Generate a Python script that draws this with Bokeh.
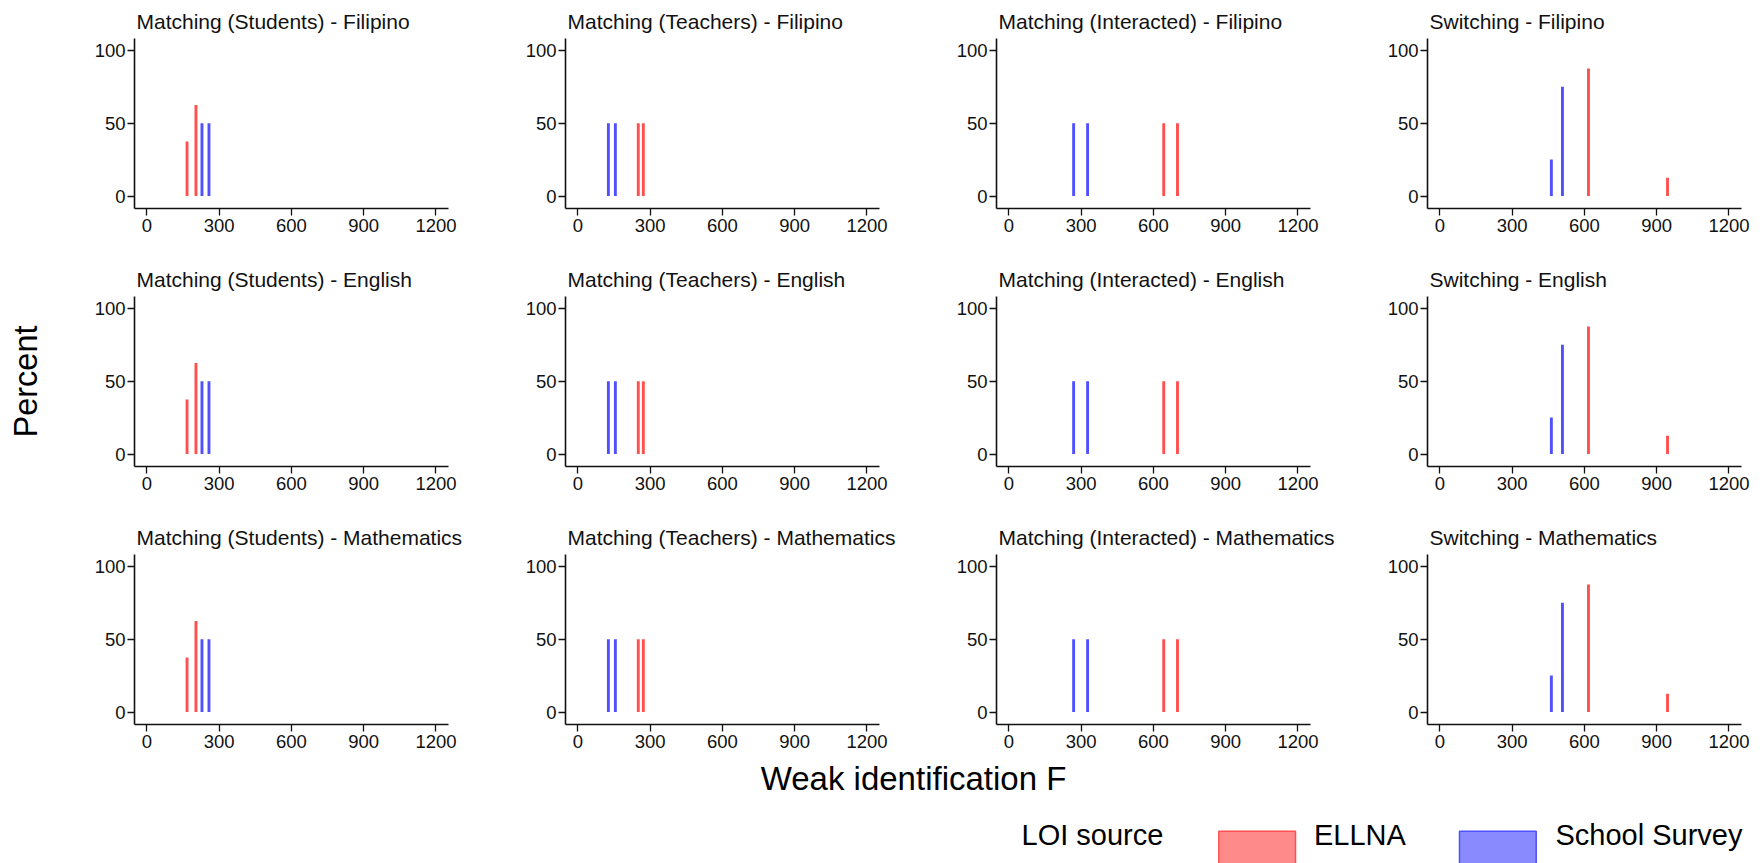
from bokeh.plotting import figure
from bokeh.layouts import column, row
from bokeh.models import FixedTicker, Range1d, Label, BoxAnnotation
from bokeh.embed import file_html
from bokeh.resources import INLINE

# ---------------- data ----------------
subjects = ["Filipino", "English", "Mathematics"]
models = ["Matching (Students)", "Matching (Teachers)", "Matching (Interacted)", "Switching"]

# Weak identification F values and percent of specifications (same for every subject)
ellna_f = {
    "Matching (Students)": [167, 204],
    "Matching (Teachers)": [251, 272],
    "Matching (Interacted)": [643, 700],
    "Switching": [617, 945],
}
ellna_pct = {
    "Matching (Students)": [37.5, 62.5],
    "Matching (Teachers)": [50, 50],
    "Matching (Interacted)": [50, 50],
    "Switching": [87.5, 12.5],
}
survey_f = {
    "Matching (Students)": [229, 258],
    "Matching (Teachers)": [127, 156],
    "Matching (Interacted)": [269, 327],
    "Switching": [463, 509],
}
survey_pct = {
    "Matching (Students)": [50, 50],
    "Matching (Teachers)": [50, 50],
    "Matching (Interacted)": [50, 50],
    "Switching": [25, 75],
}
x_ticks = [0, 300, 600, 900, 1200]
y_ticks = [0, 50, 100]
legend_title = "LOI source"
legend_labels = ["ELLNA", "School Survey"]

# ---------------- style ----------------
FONT = "Liberation Sans"
RED = "#ff5050"
BLUE = "#5050ff"
RED_LIGHT = "#ff8a8a"
BLUE_LIGHT = "#8a8aff"
INK = "#111111"

col_w = [505, 431, 431, 397]
col_l = [134, 60, 60, 60]
col_r = [57, 57, 57, 23]
row_h = [258, 258, 242]
row_b = [50, 50, 34]
TOP = 38


def make_panel(model, subject, ci, ri):
    p = figure(
        width=col_w[ci], height=row_h[ri],
        x_range=Range1d(-51, 1252), y_range=Range1d(-8.5, 108),
        output_backend="svg", toolbar_location=None, tools="",
        min_border_left=col_l[ci], min_border_right=col_r[ci],
        min_border_top=TOP, min_border_bottom=row_b[ri],
        title=f"{model} - {subject}",
    )
    p.vbar(x=ellna_f[model], top=ellna_pct[model], bottom=0, width=12,
           fill_color=RED, line_color=None)
    p.vbar(x=survey_f[model], top=survey_pct[model], bottom=0, width=12,
           fill_color=BLUE, line_color=None)

    p.title.text_font = FONT
    p.title.text_font_size = "21px"
    p.title.text_font_style = "normal"
    p.title.text_color = INK
    p.title.align = "left"
    p.title.offset = 2
    p.title.standoff = 12

    p.xgrid.visible = False
    p.ygrid.visible = False
    p.outline_line_color = None
    p.background_fill_color = "white"
    p.border_fill_color = "white"

    p.xaxis.ticker = FixedTicker(ticks=x_ticks)
    p.yaxis.ticker = FixedTicker(ticks=y_ticks)
    for ax in (p.xaxis, p.yaxis):
        ax.axis_line_color = INK
        ax.axis_line_width = 1.6
        ax.major_tick_line_color = INK
        ax.major_tick_line_width = 1.3
        ax.major_tick_out = 7
        ax.major_tick_in = 0
        ax.minor_tick_line_color = None
        ax.major_label_text_font = FONT
        ax.major_label_text_font_size = "18.5px"
        ax.major_label_text_color = INK
    p.xaxis.major_label_standoff = 3
    p.yaxis.major_label_standoff = 2

    if ci == 0 and ri == 1:
        p.yaxis.axis_label = "Percent"
        p.yaxis.axis_label_text_font = FONT
        p.yaxis.axis_label_text_font_size = "32.5px"
        p.yaxis.axis_label_text_font_style = "normal"
        p.yaxis.axis_label_text_color = "black"
        p.yaxis.axis_label_standoff = 48
    return p


rows = []
for ri, subject in enumerate(subjects):
    rows.append(row([make_panel(m, subject, ci, ri) for ci, m in enumerate(models)]))

# ---------------- bottom strip: x label + legend ----------------
BW, BH = 1764, 105
b = figure(width=BW, height=BH, x_range=Range1d(0, BW), y_range=Range1d(0, BH),
           output_backend="svg", toolbar_location=None, tools="", min_border=0)
b.axis.visible = False
b.grid.visible = False
b.outline_line_color = None

b.add_layout(Label(x=913, y=84.7, text="Weak identification F", text_align="center",
                   text_baseline="alphabetic", text_font=FONT, text_font_size="33px",
                   text_color="black"))
b.add_layout(Label(x=1021, y=29, text=legend_title, text_align="left",
                   text_baseline="alphabetic", text_font=FONT, text_font_size="29px",
                   text_color="black"))
for (l, r, fc, lc, tx, lab) in [
    (1218.3, 1295.0, RED_LIGHT, RED, 1313.5, legend_labels[0]),
    (1459.0, 1535.7, BLUE_LIGHT, BLUE, 1555, legend_labels[1]),
]:
    b.add_layout(BoxAnnotation(left=l, right=r, top=32.3, bottom=-10,
                               fill_color=fc, fill_alpha=1.0, line_color=lc,
                               line_alpha=1.0, line_width=1.5, line_dash="solid"))
    b.add_layout(Label(x=tx, y=29, text=lab, text_align="left",
                       text_baseline="alphabetic", text_font=FONT,
                       text_font_size="29px", text_color="black"))

layout = column(rows + [b])
open("out.html", "w").write(file_html(layout, INLINE))
